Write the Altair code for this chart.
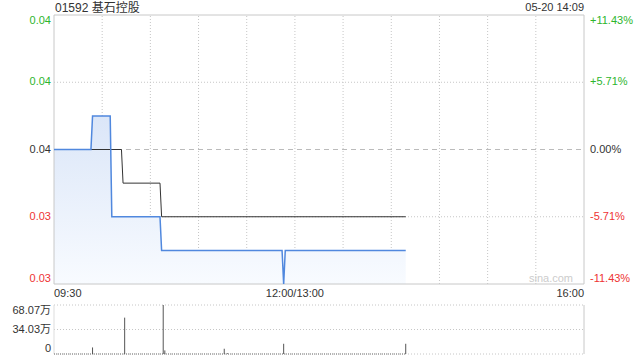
import altair as alt
import pandas as pd

# ---------------- data ----------------
stock_title = "01592 基石控股"
stamp_text = "05-20 14:09"
watermark = "sina.com"
prev_close = 0.035

price_times = ["09:30", "09:53", "09:54", "10:05", "10:06", "10:36", "10:37",
               "11:52", "11:53", "11:54", "14:09"]
price_values = [0.035, 0.035, 0.036, 0.036, 0.033, 0.033, 0.032,
                0.032, 0.031, 0.032, 0.032]

avg_times = ["09:30", "10:12", "10:13", "10:36", "10:37", "14:09"]
avg_values = [0.035, 0.035, 0.034, 0.034, 0.033, 0.033]

vol_times = ["09:54", "10:14", "10:38", "10:39", "11:16", "11:18", "11:53", "14:09"]
vol_values = [9.1, 50.5, 68.07, 5.0, 7.3, 1.0, 14.2, 14.2]  # 万

price_ticks = [0.039, 0.037, 0.035, 0.033, 0.031]
price_labels = ["0.04", "0.04", "0.04", "0.03", "0.03"]
pct_labels = ["+11.43%", "+5.71%", "0.00%", "-5.71%", "-11.43%"]
vol_ticks = [68.07, 34.03, 0]
vol_labels = ["68.07万", "34.03万", "0"]
x_label_times = ["09:30", "12:00", "16:00"]
x_labels = ["09:30", "12:00/13:00", "16:00"]
grid_times = ["10:00", "10:30", "11:00", "11:30", "12:00",
              "13:30", "14:00", "14:30", "15:00", "15:30"]
session_start, session_end = "09:30", "16:00"


def idx(t):
    h, m = map(int, t.split(":"))
    mins = h * 60 + m
    if mins <= 12 * 60:
        return mins - (9 * 60 + 30)
    return 150 + mins - 13 * 60


# ---------------- layout ----------------
W, H = 530, 339
PH, VH = 269, 49
FONT = "Liberation Sans, Arial, Noto Sans CJK SC, sans-serif"
GREEN, RED, DARK = "#2db52d", "#ee3333", "#333333"
GRID = "#c6c6c6"
FRAME = "#c8c8c8"

x0, x1 = idx(session_start), idx(session_end)
pmin, pmax = min(price_ticks), max(price_ticks)
vmax = max(vol_ticks)

x_scale = alt.Scale(domain=[x0, x1], nice=False, zero=False)
p_scale = alt.Scale(domain=[pmin, pmax], range=[PH, 0], nice=False, zero=False)
v_scale = alt.Scale(domain=[0, vmax], range=[H, H - VH], nice=False, zero=False)
side_scale = alt.Scale(domain=["up", "flat", "down"], range=[GREEN, DARK, RED])


def pos_of(v, lo, hi):
    return "top" if v == hi else ("bottom" if v == lo else "middle")


def side_of(v):
    if v > prev_close + 1e-9:
        return "up"
    if v < prev_close - 1e-9:
        return "down"
    return "flat"


def align_of(t):
    i = idx(t)
    return "left" if i == x0 else ("right" if i == x1 else "center")


price_df = pd.DataFrame({"idx": [idx(t) for t in price_times], "price": price_values})
avg_df = pd.DataFrame({"idx": [idx(t) for t in avg_times], "price": avg_values})
vol_df = pd.DataFrame({"idx": [idx(t) for t in vol_times], "vol": vol_values})
grid_df = pd.DataFrame({"idx": [idx(t) for t in grid_times]})
hgrid_df = pd.DataFrame({"p": [v for v in price_ticks if pmin < v < pmax and abs(v - prev_close) > 1e-9]})
pc_df = pd.DataFrame({"p": [prev_close]})
frame_h_df = pd.DataFrame({"p": [pmin, pmax]})
frame_v_df = pd.DataFrame({"idx": [x0, x1]})
vgrid_df = pd.DataFrame({"v": vol_ticks})

plab_df = pd.DataFrame({
    "p": price_ticks, "label": price_labels, "pct": pct_labels,
    "side": [side_of(v) for v in price_ticks],
    "pos": [pos_of(v, pmin, pmax) for v in price_ticks],
})
vlab_df = pd.DataFrame({
    "v": vol_ticks, "label": vol_labels,
    "pos": [pos_of(v, 0, vmax) for v in vol_ticks],
})
xlab_df = pd.DataFrame({
    "idx": [idx(t) for t in x_label_times], "label": x_labels,
    "al": [align_of(t) for t in x_label_times],
})


def X():
    return alt.X("idx:Q", scale=x_scale, axis=None)


def hrule(df, field, scale, **mk):
    return alt.Chart(df).mark_rule(**mk).encode(
        y=alt.Y(field, scale=scale, axis=None),
        x=alt.X(datum=x0, scale=x_scale, axis=None), x2=alt.X2(datum=x1))


# gridlines
vgrid = alt.Chart(grid_df).mark_rule(color=GRID, strokeDash=[1, 2], strokeWidth=1).encode(
    x=X(), y=alt.Y(datum=pmin, scale=p_scale, axis=None), y2=alt.Y2(datum=pmax))
hgrid = hrule(hgrid_df, "p:Q", p_scale, color=GRID, strokeDash=[1, 2], strokeWidth=1)
pcline = hrule(pc_df, "p:Q", p_scale, color="#bbbbbb", strokeDash=[5, 4], strokeWidth=1)

# price frame
frame_h = hrule(frame_h_df, "p:Q", p_scale, color=FRAME, strokeWidth=1)
frame_v = alt.Chart(frame_v_df).mark_rule(color=FRAME, strokeWidth=1).encode(
    x=X(), y=alt.Y(datum=pmin, scale=p_scale, axis=None), y2=alt.Y2(datum=pmax))

gradient = alt.Gradient(gradient="linear",
                        stops=[alt.GradientStop(color="#dbe6f8", offset=0),
                               alt.GradientStop(color="#f8fbff", offset=1)],
                        x1=0, x2=0, y1=0, y2=1)

area = alt.Chart(price_df).mark_area(color=gradient, interpolate="linear").encode(
    x=X(), y=alt.Y("price:Q", scale=p_scale, axis=None), y2=alt.Y2(datum=pmin))

avg_line = alt.Chart(avg_df).mark_line(color="#333333", strokeWidth=1, interpolate="linear").encode(
    x=X(), y=alt.Y("price:Q", scale=p_scale, axis=None))

price_line = alt.Chart(price_df).mark_line(color="#5088de", strokeWidth=1.5, interpolate="linear").encode(
    x=X(), y=alt.Y("price:Q", scale=p_scale, axis=None))

# price labels (left: price, right: change %)
plab_layers = []
for pos in ["top", "middle", "bottom"]:
    base = alt.Chart(plab_df).transform_filter(alt.datum.pos == pos)
    plab_layers.append(base.mark_text(align="right", baseline=pos, font=FONT, fontSize=11, dx=-3).encode(
        x=alt.value(0), y=alt.Y("p:Q", scale=p_scale, axis=None), text="label:N",
        color=alt.Color("side:N", scale=side_scale, legend=None)))
    plab_layers.append(base.mark_text(align="left", baseline=pos, font=FONT, fontSize=11, dx=6).encode(
        x=alt.value(W), y=alt.Y("p:Q", scale=p_scale, axis=None), text="pct:N",
        color=alt.Color("side:N", scale=side_scale, legend=None)))

# time labels
xlab_layers = []
for al in ["left", "center", "right"]:
    xlab_layers.append(alt.Chart(xlab_df).transform_filter(alt.datum.al == al).mark_text(
        align=al, baseline="top", font=FONT, fontSize=11, dy=4, color=DARK).encode(
        x=X(), y=alt.Y(datum=pmin, scale=p_scale, axis=None), text="label:N"))

# volume panel
vgrid_h = hrule(vgrid_df, "v:Q", v_scale, color=GRID, strokeDash=[1, 2], strokeWidth=1)
vol_frame_r = alt.Chart(pd.DataFrame({"idx": [x1]})).mark_rule(color=FRAME, strokeWidth=1).encode(
    x=X(), y=alt.Y(datum=0, scale=v_scale, axis=None), y2=alt.Y2(datum=vmax))
vol_frame_l = alt.Chart(pd.DataFrame({"idx": [x0]})).mark_rule(color="#dddddd", strokeWidth=1).encode(
    x=X(), y=alt.Y(datum=0, scale=v_scale, axis=None), y2=alt.Y2(datum=vmax))
vol_base = alt.Chart(pd.DataFrame({"v": [0]})).mark_rule(color="#777777", strokeDash=[1, 1], strokeWidth=1).encode(
    y=alt.Y("v:Q", scale=v_scale, axis=None),
    x=alt.X(datum=x0, scale=x_scale, axis=None), x2=alt.X2(datum=idx(price_times[-1])))
vol_bars = alt.Chart(vol_df).mark_rule(color="#555555", strokeWidth=1).encode(
    x=X(), y=alt.Y("vol:Q", scale=v_scale, axis=None), y2=alt.Y2(datum=0))

vlab_layers = []
for pos in ["top", "middle", "bottom"]:
    vlab_layers.append(alt.Chart(vlab_df).transform_filter(alt.datum.pos == pos).mark_text(
        align="right", baseline=pos, font=FONT, fontSize=11, dx=-3, color=DARK).encode(
        x=alt.value(0), y=alt.Y("v:Q", scale=v_scale, axis=None), text="label:N"))

# texts
title_t = alt.Chart(pd.DataFrame({"t": [stock_title]})).mark_text(
    align="left", baseline="middle", font=FONT, fontSize=12, color=DARK).encode(
    text="t:N", x=alt.value(1), y=alt.value(-7))
stamp_t = alt.Chart(pd.DataFrame({"t": [stamp_text]})).mark_text(
    align="right", baseline="middle", font=FONT, fontSize=11, color=DARK).encode(
    text="t:N", x=alt.value(W), y=alt.value(-7))
wm_t = alt.Chart(pd.DataFrame({"t": [watermark]})).mark_text(
    align="right", baseline="middle", font=FONT, fontSize=11, color="#cccccc").encode(
    text="t:N", x=alt.value(W - 11), y=alt.value(PH - 5))

chart = alt.layer(
    vgrid, hgrid, area, pcline, frame_h, frame_v, wm_t,
    avg_line, price_line, *plab_layers, *xlab_layers,
    vgrid_h, vol_frame_l, vol_frame_r, vol_base, vol_bars, *vlab_layers,
    title_t, stamp_t,
).resolve_scale(y="independent").properties(
    width=W, height=H,
    autosize=alt.AutoSizeParams(type="none"),
    padding={"left": 54, "top": 15, "right": 56, "bottom": 6},
    background="white",
).configure_view(stroke=None)

chart.save("out.html", embed_options={"renderer": "svg", "actions": False})
